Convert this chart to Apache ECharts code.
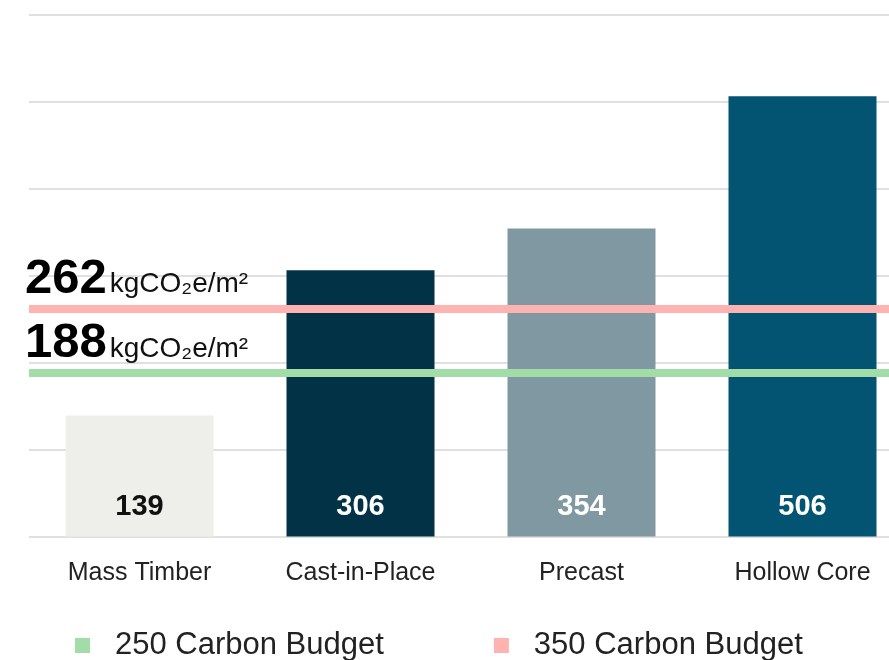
<!DOCTYPE html>
<html>
<head>
<meta charset="utf-8">
<script src="https://cdn.jsdelivr.net/npm/echarts@6/dist/echarts.min.js"></script>
<style>
html,body{margin:0;padding:0;background:#fff;}
#chart{width:889px;height:660px;}
</style>
</head>
<body>
<div id="chart"></div>
<script>
var categories = ['Mass Timber', 'Cast-in-Place', 'Precast', 'Hollow Core'];
var values = [139, 306, 354, 506];
var barColors = ['#EEEFEA', '#023246', '#8098A2', '#035372'];
var labelColors = ['#111111', '#ffffff', '#ffffff', '#ffffff'];
var budgetNames = ['250 Carbon Budget', '350 Carbon Budget'];
var budgetValues = [188, 262];
var budgetColors = ['#A2DDA8', '#FFB3B0'];
var unit = 'kgCO\u2082e/m\u00B2';
var yMin = 0, yMax = 600, yInterval = 100;

var FONT = "'Liberation Sans', Arial, sans-serif";
var chart = echarts.init(document.getElementById('chart'));

var barData = values.map(function (v, i) {
  return {
    value: v,
    itemStyle: { color: barColors[i] },
    label: { color: labelColors[i] }
  };
});

var budgetSeries = budgetNames.map(function (name, i) {
  return {
    name: name,
    type: 'line',
    data: [],
    z: 5,
    color: budgetColors[i],
    itemStyle: { color: budgetColors[i] },
    markLine: {
      silent: true,
      symbol: 'none',
      animation: false,
      z: 5,
      lineStyle: { color: budgetColors[i], width: 8, type: 'solid' },
      label: {
        show: true,
        position: 'insideStartTop',
        distance: [-4, 5],
        formatter: function () { return '{a|' + budgetValues[i] + '}{b|' + unit + '}'; },
        rich: {
          a: { fontFamily: FONT, fontSize: 49, fontWeight: 'bold', color: '#000', verticalAlign: 'bottom', lineHeight: 53, padding: [0, 3, 0, 0] },
          b: { fontFamily: FONT, fontSize: 28, color: '#111', verticalAlign: 'bottom', lineHeight: 31, padding: [0, 0, 5, 0] }
        }
      },
      data: [{ yAxis: budgetValues[i] }]
    }
  };
});

var option = {
  animation: false,
  backgroundColor: '#ffffff',
  textStyle: { fontFamily: FONT },
  grid: { left: 29, top: 14.5, width: 884, height: 522, containLabel: false, outerBoundsMode: 'none' },
  legend: {
    data: budgetNames,
    left: 75,
    top: 630,
    padding: 0,
    icon: 'rect',
    itemWidth: 15,
    itemHeight: 15,
    itemGap: 110,
    textStyle: { fontFamily: FONT, fontSize: 31, color: '#222', padding: [0, 0, 0, 20] }
  },
  xAxis: {
    type: 'category',
    data: categories,
    axisLine: { show: false },
    axisTick: { show: false },
    axisLabel: { fontFamily: FONT, fontSize: 25, color: '#222', margin: 24 }
  },
  yAxis: {
    type: 'value',
    min: yMin,
    max: yMax,
    interval: yInterval,
    axisLabel: { show: false },
    axisLine: { show: false },
    axisTick: { show: false },
    splitLine: { lineStyle: { color: '#E0E0E0', width: 2 } }
  },
  series: [{
    type: 'bar',
    data: barData,
    barWidth: 148,
    z: 2,
    label: {
      show: true,
      position: 'insideBottom',
      distance: 15,
      fontFamily: FONT,
      fontSize: 29,
      fontWeight: 'bold'
    }
  }].concat(budgetSeries)
};
chart.setOption(option);
</script>
</body>
</html>
